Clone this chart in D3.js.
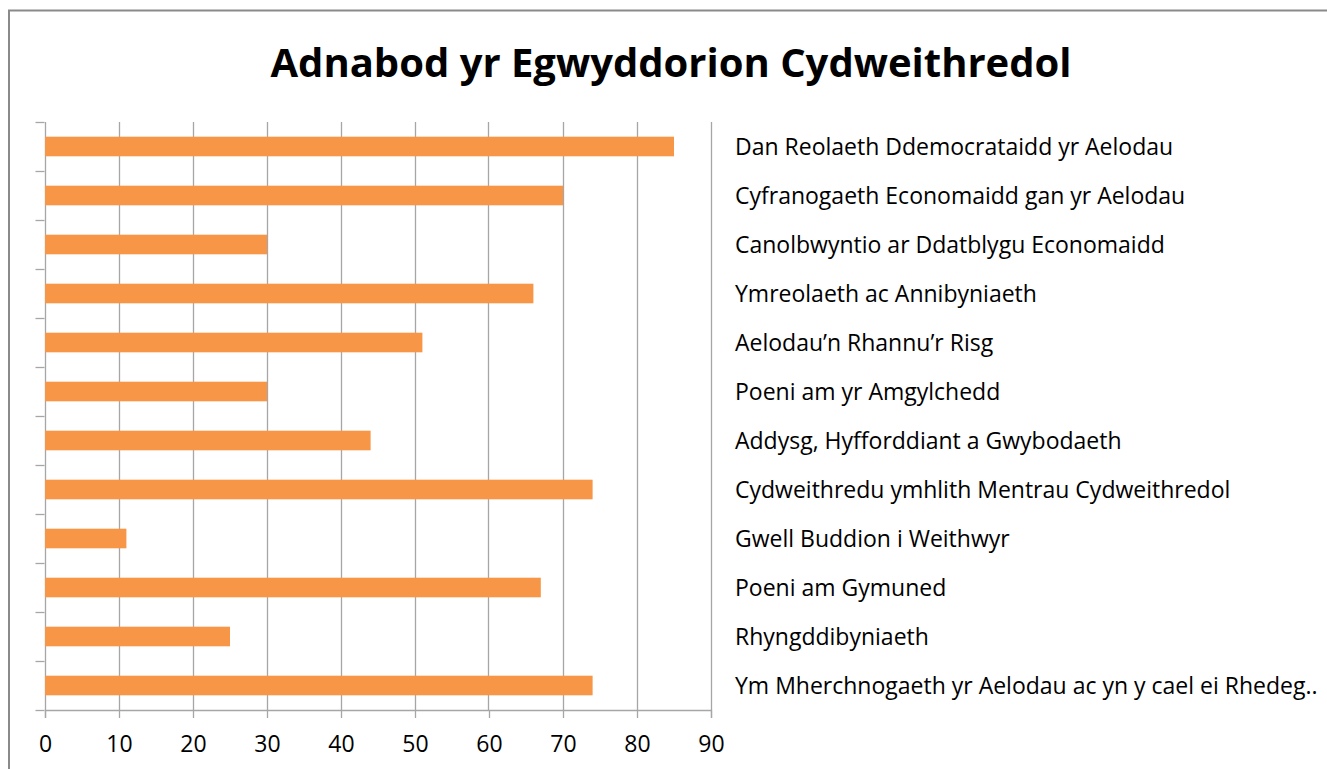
<!DOCTYPE html>
<html>
<head>
<meta charset="utf-8">
<script src="https://cdn.jsdelivr.net/npm/d3@7"></script>
<style>
  body { margin: 0; background: #fff; }
  svg { display: block; }
</style>
</head>
<body>
<svg id="chart"></svg>
<script>
// categories top to bottom
var categories = [
  'Dan Reolaeth Ddemocrataidd yr Aelodau',
  'Cyfranogaeth Economaidd gan yr Aelodau',
  'Canolbwyntio ar Ddatblygu Economaidd',
  'Ymreolaeth ac Annibyniaeth',
  'Aelodau\u2019n Rhannu\u2019r Risg',
  'Poeni am yr Amgylchedd',
  'Addysg, Hyfforddiant a Gwybodaeth',
  'Cydweithredu ymhlith Mentrau Cydweithredol',
  'Gwell Buddion i Weithwyr',
  'Poeni am Gymuned',
  'Rhyngddibyniaeth',
  'Ym Mherchnogaeth yr Aelodau ac yn y cael ei Rhedeg..'
]
var values = [85, 70, 30, 66, 51, 30, 44, 74, 11, 67, 25, 74]
var xTicks = [0, 10, 20, 30, 40, 50, 60, 70, 80, 90]
var title = 'Adnabod yr Egwyddorion Cydweithredol'

var width = 1327
var height = 769
var plotLeft = 44.5, plotRight = 710.5, plotTop = 122, plotBottom = 710

var svg = d3.select('#chart').attr('width', width).attr('height', height)

// chart border
svg.append('rect')
  .attr('x', 9).attr('y', 10.5)
  .attr('width', 1400).attr('height', 800)
  .attr('fill', 'none')
  .attr('stroke', '#8a8a8a')
  .attr('stroke-width', 2)

var x = d3.scaleLinear().domain([0, 90]).range([plotLeft, plotRight])
var y = d3.scaleBand().domain(categories).range([plotTop, plotBottom])
  .paddingInner(0.6).paddingOuter(0.3)
var yEdge = d3.scaleLinear().domain([0, categories.length]).range([plotTop, plotBottom])

// gridlines
svg.append('g')
  .selectAll('line')
  .data(xTicks)
  .join('line')
  .attr('x1', (d) => Math.round(x(d)) + 0.5)
  .attr('x2', (d) => Math.round(x(d)) + 0.5)
  .attr('y1', plotTop)
  .attr('y2', plotBottom)
  .attr('stroke', '#a6a6a6')
  .attr('stroke-width', 1.3)

// bars
svg.append('g')
  .selectAll('rect')
  .data(values)
  .join('rect')
  .attr('x', x(0) + 0.5)
  .attr('y', (d, i) => y(categories[i]))
  .attr('width', (d) => x(d) - x(0))
  .attr('height', y.bandwidth())
  .attr('fill', '#f79646')

// x axis
var xAxis = d3.axisBottom(x).tickValues(xTicks).tickSize(8).tickPadding(18)
var gx = svg.append('g')
  .attr('transform', `translate(0.5,${plotBottom})`)
  .call(xAxis)
gx.select('.domain').attr('stroke', '#a6a6a6').attr('stroke-width', 1.3)
gx.selectAll('.tick line').attr('stroke', '#a6a6a6').attr('stroke-width', 1.3)
gx.selectAll('.tick text')
  .attr('font-family', 'Open Sans, sans-serif')
  .attr('font-size', 23)
  .attr('fill', '#000')

// y axis ticks at category edges
svg.append('g')
  .selectAll('line')
  .data(d3.range(categories.length + 1))
  .join('line')
  .attr('x1', plotLeft - 9)
  .attr('x2', plotLeft)
  .attr('y1', (d) => Math.round(yEdge(d)) + 0.5)
  .attr('y2', (d) => Math.round(yEdge(d)) + 0.5)
  .attr('stroke', '#a6a6a6')
  .attr('stroke-width', 1.3)

// category labels on the right
svg.append('g')
  .attr('font-family', 'Open Sans, sans-serif')
  .attr('font-size', 23)
  .selectAll('text')
  .data(categories)
  .join('text')
  .attr('x', 735)
  .attr('y', (d) => y(d) + y.bandwidth() / 2)
  .attr('dy', '0.35em')
  .attr('fill', '#000')
  .text((d) => d)

// title
svg.append('text')
  .attr('x', 671)
  .attr('y', 77)
  .attr('text-anchor', 'middle')
  .attr('font-family', 'Open Sans, sans-serif')
  .attr('font-weight', 'bold')
  .attr('font-size', 40)
  .text(title)
</script>
</body>
</html>
